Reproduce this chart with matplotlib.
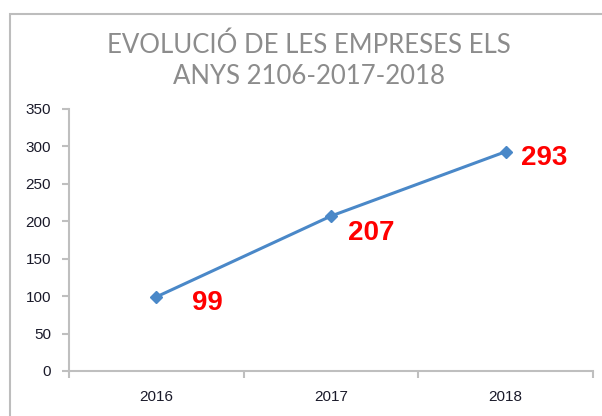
import matplotlib
matplotlib.use("Agg")
from matplotlib import pyplot as plt
from matplotlib.patches import Rectangle

years = ["2016", "2017", "2018"]
empreses = [99, 207, 293]
etiquetes = ["99", "207", "293"]
# label offsets in pixels (dx, dy)
offsets = [(36, -6), (17, -17), (15, -6)]

fig = plt.figure(figsize=(6.02, 4.16), dpi=100)
fig.patches.append(Rectangle((10 / 602, -0.1), 1.2, 1 - 14 / 416 + 0.1,
                             transform=fig.transFigure, fill=False,
                             edgecolor="#bdbdbd", linewidth=1.5))

ax = fig.add_axes([69 / 602, 1 - 371 / 416, 524 / 602, 262 / 416])
x = list(range(len(years)))
ax.plot(x, empreses, color="#4a88c8", linewidth=2.2, marker="D", markersize=6)

for xi, v, lab, off in zip(x, empreses, etiquetes, offsets):
    ax.annotate(lab, (xi, v), xytext=off, textcoords="offset pixels",
                ha="left", va="center", color="#ff0000", fontsize=20,
                fontweight="bold", family="Liberation Sans")

ax.set_xlim(-0.5, len(years) - 0.5)
ax.set_ylim(0, 350)
ax.set_yticks(range(0, 351, 50))
ax.set_xticks([i - 0.5 for i in range(len(years) + 1)])
ax.set_xticklabels([])
ax.set_xticks(x, minor=True)
ax.set_xticklabels(years, minor=True)
ax.tick_params(axis="x", which="minor", length=0, pad=14)
ax.tick_params(axis="x", which="major", length=5, color="#bfbfbf", width=1.5)
ax.tick_params(axis="y", length=5, color="#bfbfbf", width=1.5, pad=8)
for lbl in ax.get_xticklabels(minor=True) + ax.get_yticklabels():
    lbl.set_family("Liberation Sans")
    lbl.set_fontsize(11)
    lbl.set_color("#1a1a2a")
for s in ["top", "right"]:
    ax.spines[s].set_visible(False)
for s in ["left", "bottom"]:
    ax.spines[s].set_color("#bfbfbf")
    ax.spines[s].set_linewidth(1.5)

fig.text(0.513, 1 - 45 / 416, "EVOLUCIÓ DE LES EMPRESES ELS", ha="center",
         va="center", fontsize=18.5, color="#8c8c8c", family="Lato")
fig.text(0.513, 1 - 76 / 416, "ANYS 2106-2017-2018", ha="center",
         va="center", fontsize=18.5, color="#8c8c8c", family="Lato")

fig.savefig("out.png", dpi=100)
